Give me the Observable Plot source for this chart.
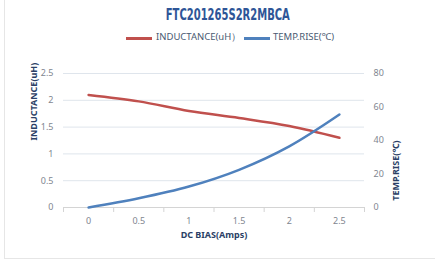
<!DOCTYPE html>
<html><head><meta charset="utf-8">
<script src="https://cdn.jsdelivr.net/npm/d3@7"></script>
<script src="https://cdn.jsdelivr.net/npm/@observablehq/plot@0.6"></script>
<style>
body{margin:0;background:#fff;width:435px;height:271px;overflow:hidden;position:relative;font-family:"Noto Sans",sans-serif}
#frame{position:absolute;left:4px;top:0;width:431px;height:259px;border-left:1px solid #e6e6e6;border-bottom:1px solid #e6e6e6;box-sizing:border-box}
#titlewrap{position:absolute;left:0;width:456px;top:3px;text-align:center}
#title{display:inline-block;transform:scaleX(0.74);transform-origin:center;font-family:"DejaVu Sans Condensed","Liberation Sans Narrow",sans-serif;font-weight:bold;font-size:15px;color:#2e5597}
.leg{position:absolute;top:31px;height:12px;font-size:9.5px;color:#4a5a72;line-height:12px;white-space:nowrap}
.sw{position:absolute;top:37px;height:3px;width:26px}
#chart{position:absolute;left:0;top:50px}
</style></head>
<body>
<div id="frame"></div>
<div id="titlewrap"><span id="title"></span></div>
<div class="sw" style="left:126px;background:#c0504d"></div>
<div class="leg" id="l1" style="left:156px"></div>
<div class="sw" style="left:244px;background:#4f81bd"></div>
<div class="leg" id="l2" style="left:273px"></div>
<div id="chart"></div>
<script>
const title = "FTC201265S2R2MBCA";
const seriesNames = ["INDUCTANCE(uH）", "TEMP.RISE(℃)"];
const dcBias = [0, 0.5, 1, 1.5, 2, 2.5];
const inductance = [2.1, 1.98, 1.8, 1.67, 1.52, 1.3];
const tempRise = [0, 5.5, 12.5, 22.5, 36.5, 55.5];
const leftTicks = [0, 0.5, 1, 1.5, 2, 2.5];
const rightTicks = [0, 20, 40, 60, 80];
const xLabel = "DC BIAS(Amps)";
const yLabelLeft = "INDUCTANCE(uH)";
const yLabelRight = "TEMP.RISE(℃)";

document.getElementById("title").textContent = title;
document.getElementById("l1").textContent = seriesNames[0];
document.getElementById("l2").textContent = seriesNames[1];

const yMax = 2.5, tMax = 80;
const k = yMax / tMax;
const step = 0.5;
const bounds = [...dcBias.map(d => d - step / 2), dcBias[dcBias.length - 1] + step / 2];

const indData = dcBias.map((x, i) => ({x, y: inductance[i]}));
const tmpData = dcBias.map((x, i) => ({x, y: tempRise[i] * k}));

const tickColor = "#7f8690";
const labColor = "#2b3f66";

const chart = Plot.plot({
  width: 435,
  height: 221,
  marginLeft: 63,
  marginRight: 71,
  marginTop: 23,
  marginBottom: 64,
  style: {fontFamily: "'Noto Sans', sans-serif", fontSize: "9px", background: "transparent", overflow: "visible"},
  x: {type: "linear", domain: [bounds[0], bounds[bounds.length - 1]]},
  y: {type: "linear", domain: [0, yMax]},
  marks: [
    Plot.gridY(leftTicks.slice(1), {stroke: "#dfe5ec", strokeOpacity: 1}),
    Plot.ruleY([0], {stroke: "#d4d4d4"}),
    Plot.axisX(bounds, {tickSize: 5, tickFormat: () => "", stroke: "#d4d4d4", label: null}),
    Plot.axisX(dcBias, {tickSize: 0, tickPadding: 10, tickFormat: d => String(d), fill: tickColor, label: null}),
    Plot.axisY(leftTicks, {anchor: "left", tickSize: 0, tickPadding: 10, tickFormat: d => String(d), fill: tickColor, label: null}),
    Plot.axisY(rightTicks.map(t => t * k), {anchor: "right", tickSize: 0, tickPadding: 9, tickFormat: d => String(Math.round(d / k)), fill: tickColor, label: null}),
    Plot.line(indData, {x: "x", y: "y", stroke: "#c0504d", strokeWidth: 2.5, curve: "catmull-rom"}),
    Plot.line(tmpData, {x: "x", y: "y", stroke: "#4f81bd", strokeWidth: 2.5, curve: "catmull-rom"}),
    Plot.text([yLabelLeft], {frameAnchor: "left", dx: -29, rotate: -90, text: d => d, fill: labColor, fontWeight: "bold", fontSize: 9}),
    Plot.text([yLabelRight], {frameAnchor: "right", dx: 32, rotate: -90, text: d => d, fill: labColor, fontWeight: "bold", fontSize: 9}),
    Plot.text([xLabel], {frameAnchor: "bottom", dy: 30, text: d => d, fill: labColor, fontWeight: "bold", fontSize: 9})
  ]
});
document.getElementById("chart").appendChild(chart);
</script>
</body></html>
